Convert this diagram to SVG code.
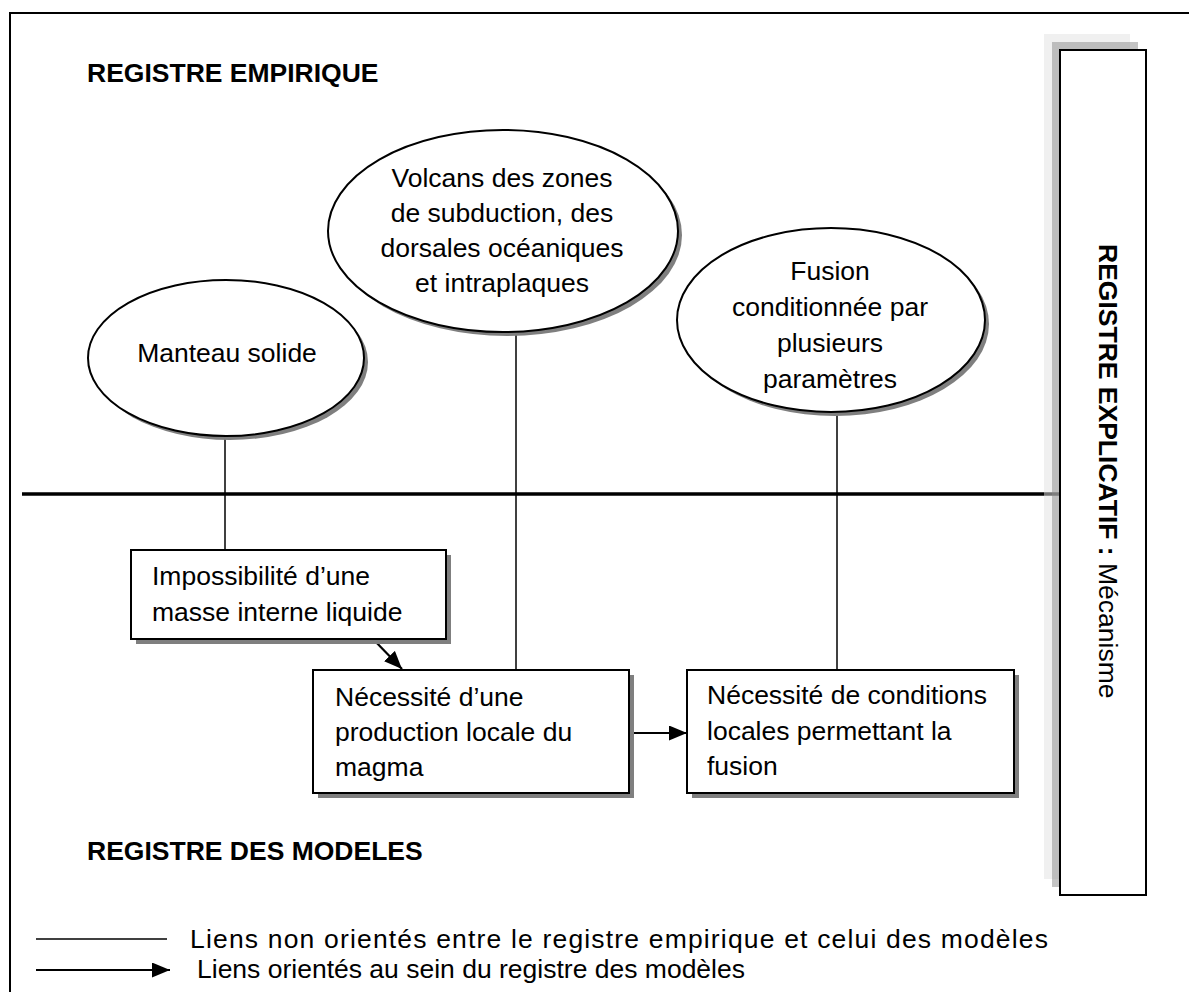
<svg xmlns="http://www.w3.org/2000/svg" width="1189" height="992" viewBox="0 0 1189 992">
  <style>
    text { font-family: "Liberation Sans", Arial, sans-serif; font-size: 26.5px; fill: #000; }
    .bold { font-weight: bold; }
    .mid { text-anchor: middle; }
    .node { fill: #fff; stroke: #000; stroke-width: 2; }
    .shadow { fill: #7f7f7f; stroke: none; }
    .link { stroke: #000; stroke-width: 1.5; fill: none; }
    .arrow { stroke: #000; stroke-width: 2.2; fill: none; marker-end: url(#head); }
  </style>
  <defs>
    <marker id="head" viewBox="0 0 18 15" refX="18" refY="7.5" markerWidth="18" markerHeight="15" markerUnits="userSpaceOnUse" orient="auto" preserveAspectRatio="none">
      <path d="M0,0 L18,7.5 L0,15 Z" fill="#000"/>
    </marker>
  </defs>

  <rect width="1189" height="992" fill="#fff"/>

  <!-- outer frame (right and bottom edges run past the page) -->
  <rect id="frame" x="10" y="13" width="1220" height="1020" fill="none" stroke="#000" stroke-width="2"/>

  <!-- register titles -->
  <text class="bold" x="87" y="82">REGISTRE EMPIRIQUE</text>
  <text class="bold" x="87" y="860">REGISTRE DES MODELES</text>

  <!-- connectors -->
  <g id="connectors">
    <line x1="22" y1="494" x2="1060" y2="494" stroke="#000" stroke-width="3.5"/>
    <line class="link" x1="225" y1="430" x2="225" y2="550"/>
    <line class="link" x1="516" y1="320" x2="516" y2="670"/>
    <line class="link" x1="837" y1="400" x2="837" y2="670"/>
    <line class="arrow" x1="373" y1="639" x2="402" y2="669"/>
    <line class="arrow" x1="629" y1="733" x2="687" y2="733"/>
  </g>

  <!-- empirical register -->
  <g id="manteau">
    <ellipse class="shadow" cx="230" cy="362" rx="138" ry="78"/>
    <ellipse class="node" cx="226" cy="358" rx="138" ry="78"/>
    <text class="mid" x="227" y="362">Manteau solide</text>
  </g>

  <g id="volcans">
    <ellipse class="shadow" cx="507" cy="235" rx="175" ry="101"/>
    <ellipse class="node" cx="503" cy="231" rx="175" ry="101"/>
    <text class="mid" x="502" y="187">Volcans des zones</text>
    <text class="mid" x="502" y="222">de subduction, des</text>
    <text class="mid" x="502" y="257">dorsales océaniques</text>
    <text class="mid" x="502" y="292">et intraplaques</text>
  </g>

  <g id="fusion">
    <ellipse class="shadow" cx="835" cy="324" rx="154" ry="92"/>
    <ellipse class="node" cx="831" cy="320" rx="154" ry="92"/>
    <text class="mid" x="830" y="280">Fusion</text>
    <text class="mid" x="830" y="316">conditionnée par</text>
    <text class="mid" x="830" y="352">plusieurs</text>
    <text class="mid" x="830" y="388">paramètres</text>
  </g>

  <!-- model register -->
  <g id="impossibilite">
    <rect class="shadow" x="136" y="555" width="315" height="89"/>
    <rect class="node" x="131" y="550" width="315" height="89"/>
    <text x="152" y="585">Impossibilité d’une</text>
    <text x="152" y="621">masse interne liquide</text>
  </g>

  <g id="production">
    <rect class="shadow" x="318" y="675" width="316" height="123"/>
    <rect class="node" x="313" y="670" width="316" height="123"/>
    <text x="335" y="706">Nécessité d’une</text>
    <text x="335" y="741">production locale du</text>
    <text x="335" y="776">magma</text>
  </g>

  <g id="conditions">
    <rect class="shadow" x="692" y="675" width="327" height="123"/>
    <rect class="node" x="687" y="670" width="327" height="123"/>
    <text x="707" y="704">Nécessité de conditions</text>
    <text x="707" y="740">locales permettant la</text>
    <text x="707" y="775">fusion</text>
  </g>

  <!-- explanatory register -->
  <g id="explicatif">
    <rect x="1044" y="34" width="86" height="845" fill="#e1e1e1" opacity="0.5"/>
    <rect x="1052" y="42" width="86" height="845" fill="#8a8a8a" opacity="0.5"/>
    <rect x="1060" y="50" width="86" height="845" fill="#fff" stroke="#000" stroke-width="2"/>
    <text transform="translate(1099,244) rotate(90)"><tspan class="bold">REGISTRE EXPLICATIF :</tspan> Mécanisme</text>
  </g>

  <!-- legend -->
  <g id="legend">
    <line class="link" x1="36" y1="939" x2="167" y2="939"/>
    <line class="arrow" x1="36" y1="970" x2="170" y2="970"/>
    <text x="190" y="948" textLength="858" lengthAdjust="spacing">Liens non orientés entre le registre empirique et celui des modèles</text>
    <text x="197" y="978">Liens orientés au sein du registre des modèles</text>
  </g>
</svg>
